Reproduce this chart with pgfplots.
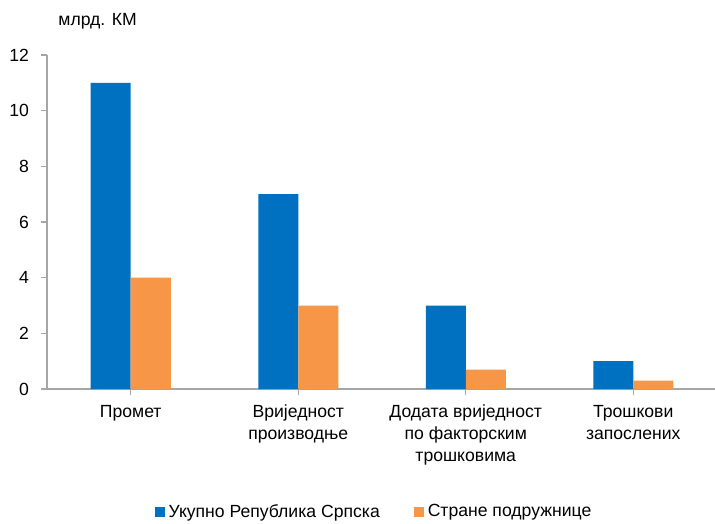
\documentclass[border=0pt]{standalone}
\usepackage{fontspec}
\setmainfont{Liberation Sans}
\usepackage{pgfplots}
\pgfplotsset{compat=1.18}
\definecolor{cBlue}{HTML}{0070C0}
\definecolor{cOrange}{HTML}{F79646}
\definecolor{cAxis}{HTML}{A6A6A6}

\begin{document}
\fontsize{17.6}{22}\selectfont
\begin{tikzpicture}
\path[use as bounding box] (0,0) rectangle (715pt,523pt);
\begin{axis}[
  at={(47pt,134pt)}, anchor=south west,
  scale only axis, width=670pt, height=334pt,
  ybar=0pt, bar width=40pt,
  xmin=-0.5, xmax=3.5, ymin=0, ymax=12,
  ytick={0,2,...,12},
  xtick=data,
  xticklabels={Промет, {Вриједност\\производње}, {Додата вриједност\\по факторским\\трошковима}, {Трошкови\\запослених}},
  x tick label style={align=center, font=\fontsize{17.6}{22}\selectfont, yshift=-4pt},
  y tick label style={font=\fontsize{17.6}{22}\selectfont, xshift=-6pt},
  /pgf/number format/assume math mode=true,
  axis x line=bottom, axis y line=left,
  axis line style={cAxis, line width=1.5pt, -},
  tick style={cAxis, line width=1.2pt},
  tick align=outside, major tick length=6pt,
  every outer x axis line/.append style={-},
  every outer y axis line/.append style={-},
  legend style={at={(0.488,-0.368)}, anchor=center, draw=none, fill=none,
    font=\fontsize{17.6}{22}\selectfont, legend columns=2,
    /tikz/every odd column/.append style={column sep=2pt},
    /tikz/every even column/.append style={column sep=32pt}},
  legend image code/.code={\fill[#1] (0pt,-5pt) rectangle (10pt,5pt);},
  clip=false,
]
\addplot[draw=none, fill=cBlue] coordinates {(0,11) (1,7) (2,3) (3,1)};
\addplot[draw=none, fill=cOrange] coordinates {(0,4) (1,3) (2,0.7) (3,0.3)};
\legend{Укупно Република Српска, Стране подружнице}
\node[anchor=west] at (rel axis cs:0.008,1.1) {млрд. КМ};
\end{axis}
\end{tikzpicture}
\end{document}
